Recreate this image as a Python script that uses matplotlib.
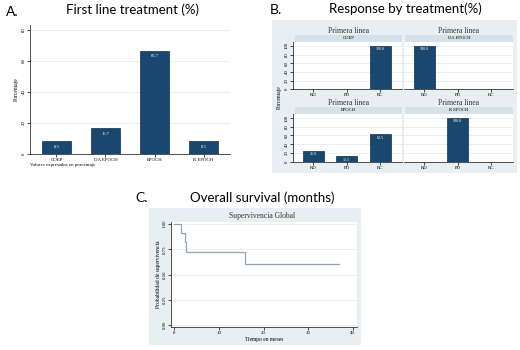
import matplotlib
matplotlib.use("Agg")
import matplotlib.pyplot as plt
from matplotlib.patches import Rectangle

# Panel A: primera linea de tratamiento (%)
treat_names = ["COEP", "DA EPOCH", "EPOCH", "R EPOCH"]
treat_pct = [8.3, 16.7, 66.7, 8.3]

# Panel B: respuesta por tratamiento (%)
resp_names = ["RD", "PD", "RC"]
resp_panels = ["COEP", "DA EPOCH", "EPOCH", "R EPOCH"]
resp_pct = {
    "COEP": [0, 0, 100.0],
    "DA EPOCH": [100.0, 0, 0],
    "EPOCH": [25.0, 12.5, 62.5],
    "R EPOCH": [0, 100.0, 0],
}

# Panel C: supervivencia global (Kaplan-Meier)
km_time = [0, 1.5, 2.3, 2.6, 15.9, 37.0]
km_surv = [1.0, 0.909, 0.818, 0.727, 0.606, 0.606]

W, H = 520, 350
NAVY = "#1a476f"
BG = "#e8eff3"
STRIP = "#d5e1e8"
GRID = "#e6ecef"
SERIF = "Liberation Serif"
SANS = "Lato"

fig = plt.figure(figsize=(W / 100, H / 100), dpi=100)


def px_axes(left, top, right, bottom, **kw):
    return fig.add_axes([left / W, 1 - bottom / H, (right - left) / W, (bottom - top) / H], **kw)


def fig_text(x, y, s, **kw):
    fig.text(x / W, 1 - y / H, s, **kw)


def px_rect(left, top, right, bottom, color, z):
    fig.patches.append(Rectangle((left / W, 1 - bottom / H), (right - left) / W, (bottom - top) / H,
                                 transform=fig.transFigure, facecolor=color, edgecolor="none", zorder=z))


def stata_axes(ax):
    for side in ["top", "right"]:
        ax.spines[side].set_visible(False)
    for side in ["left", "bottom"]:
        ax.spines[side].set_color("#333333")
        ax.spines[side].set_linewidth(0.6)
    ax.tick_params(length=2, width=0.5, pad=1, labelsize=3.5)
    for lab in ax.get_xticklabels() + ax.get_yticklabels():
        lab.set_fontfamily(SERIF)
    ax.set_axisbelow(True)


# ---------- A ----------
fig_text(6, 12, "A.", fontsize=10, family=SANS, va="center")
fig_text(133, 10, "First line treatment (%)", fontsize=9.5, family=SANS, ha="center", va="center")
axA = px_axes(30, 25, 230, 154)
xa = list(range(len(treat_names)))
axA.bar(xa, treat_pct, width=0.59, color=NAVY, edgecolor="#0f2e4a", linewidth=0.5)
for x, v in zip(xa, treat_pct):
    axA.text(x, v - 2.2, f"{v:.1f}", color="white", fontsize=3.3, family=SERIF, ha="center", va="top")
axA.set_xlim(-0.54, 3.54)
axA.set_ylim(0, 83.2)
axA.set_yticks([0, 20, 40, 60, 80])
axA.set_xticks(xa)
axA.set_xticklabels(treat_names)
axA.yaxis.grid(True, color=GRID, linewidth=0.6)
stata_axes(axA)
plt.setp(axA.get_yticklabels(), rotation=90, va="center")
axA.set_ylabel("Porcentaje", fontsize=4, family=SERIF, labelpad=2)
fig_text(30, 165, "Valores expresados en porcentaje", fontsize=3.5, family=SERIF, va="center")

# ---------- B ----------
fig_text(270, 10, "B.", fontsize=10, family=SANS, va="center")
fig_text(405, 9, "Response by treatment(%)", fontsize=9.5, family=SANS, ha="center", va="center")
px_rect(272, 20, 517, 173, BG, -2)
fig_text(279, 97, "Porcentaje", fontsize=4, family=SERIF, rotation=90, ha="center", va="center")

boxes = [
    (293, 295, 402, 35, 89.3),
    (404, 405, 513, 35, 89.3),
    (293, 295, 402, 107, 161.7),
    (404, 405, 513, 107, 161.7),
]
for i, name in enumerate(resp_panels):
    axl, sl, sr, st, bot = boxes[i]
    px_rect(sl, st, sr, st + 6.5, STRIP, -1)
    fig_text((sl + sr) / 2, st + 3.3, name, fontsize=3.3, family=SERIF, ha="center", va="center")
    fig_text((sl + sr) / 2, st - 4, "Primera linea", fontsize=5.5, family=SERIF, ha="center", va="center",
             color="#333333")
    ax = px_axes(axl, st + 6.5, sr, bot)
    xb = list(range(len(resp_names)))
    vals = resp_pct[name]
    ax.bar(xb, vals, width=0.62, color=NAVY, edgecolor="#0f2e4a", linewidth=0.5)
    for x, v in zip(xb, vals):
        if v > 0:
            ax.text(x, v - 3, f"{v:.1f}", color="white", fontsize=3, family=SERIF, ha="center", va="top")
    ax.set_xlim(-0.6, 2.65)
    ax.set_ylim(0, 110)
    ax.set_yticks([0, 20, 40, 60, 80, 100])
    ax.set_xticks(xb)
    ax.set_xticklabels(resp_names)
    ax.yaxis.grid(True, color=GRID, linewidth=0.6)
    stata_axes(ax)
    if i % 2 == 0:
        plt.setp(ax.get_yticklabels(), rotation=90, va="center")
    else:
        ax.tick_params(axis="y", labelleft=False, length=0)
        ax.spines["left"].set_visible(False)

# ---------- C ----------
fig_text(135, 198, "C.", fontsize=10, family=SANS, va="center")
fig_text(262, 198, "Overall survival (months)", fontsize=9.5, family=SANS, ha="center", va="center")
px_rect(149, 208, 361, 345, BG, -2)
fig_text(262, 216, "Supervivencia Global", fontsize=5.5, family=SERIF, ha="center", va="center", color="#333333")
axC = px_axes(171, 222, 357, 327)
axC.step(km_time, km_surv, where="post", color="#8fa6b8", linewidth=0.9)
axC.set_xlim(-0.74, 40.96)
axC.set_ylim(-0.02, 1.02)
axC.set_yticks([0, 0.25, 0.5, 0.75, 1.0])
axC.set_yticklabels(["0.00", "0.25", "0.50", "0.75", "1.00"])
axC.set_xticks([0, 10, 20, 30, 40])
axC.yaxis.grid(True, color=GRID, linewidth=0.6)
stata_axes(axC)
plt.setp(axC.get_yticklabels(), rotation=90, va="center")
axC.set_ylabel("Probabilidad de supervivencia", fontsize=4, family=SERIF, labelpad=1.5)
axC.set_xlabel("Tiempo en meses", fontsize=4, family=SERIF, labelpad=1)

fig.savefig("out.png", dpi=100)
